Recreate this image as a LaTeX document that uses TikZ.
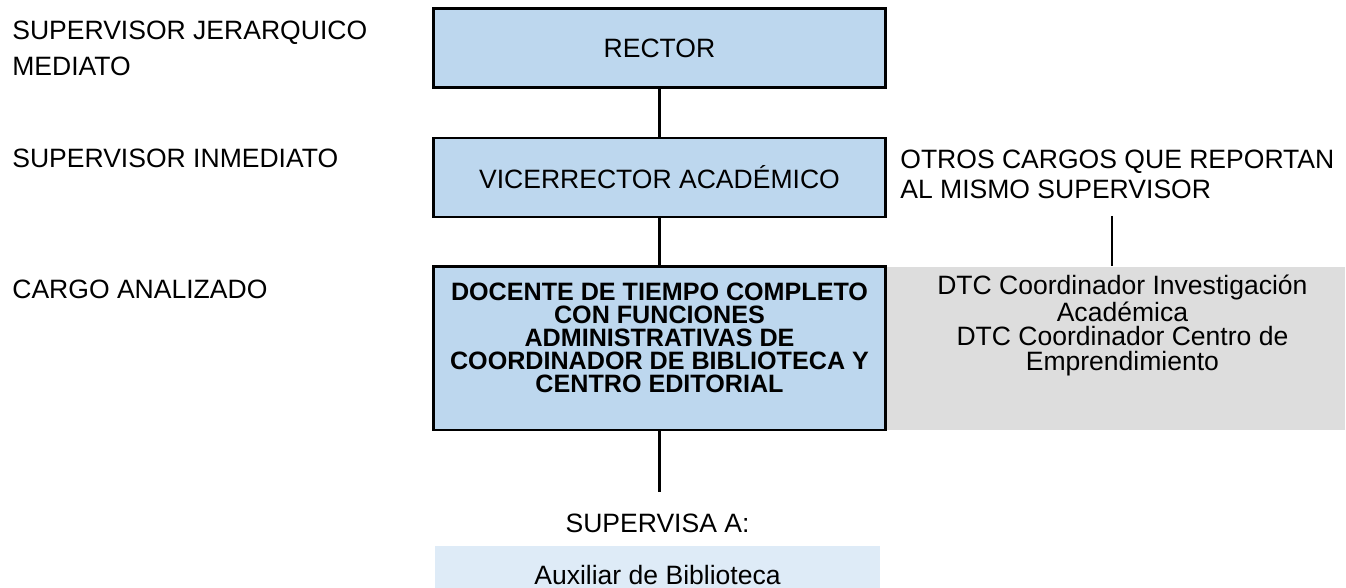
\documentclass[tikz,border=0pt]{standalone}
\usepackage{fontspec}
\setmainfont{Liberation Sans}
\usetikzlibrary{positioning,backgrounds}
\definecolor{cargocol}{RGB}{189,215,238}
\definecolor{otroscol}{RGB}{221,221,221}
\definecolor{subcol}  {RGB}{222,235,247}

\begin{document}
\begin{tikzpicture}[
  puesto/.style={rectangle,draw=black,fill=cargocol,line width=1.5pt,
                 minimum width=9.05cm,minimum height=1.58cm,
                 font={\fontsize{15.1}{17}\selectfont},align=center},
  grisbox/.style={rectangle,fill=otroscol,inner sep=0pt,
                  minimum width=9.16cm,minimum height=3.26cm},
  subbox/.style={rectangle,fill=subcol,inner sep=0pt,
                 minimum width=8.9cm,minimum height=1.16cm,
                 font={\fontsize{15.1}{17}\selectfont}},
  etiq/.style={inner sep=0pt,align=left,
               font={\fontsize{15.1}{20.5}\selectfont}},
  lin/.style={line width=1.2pt,black}
]
\clip (0,0) rectangle (26.92,-11.76);
% jerarquia
\node[puesto] (rector) at (13.19,-0.966) {RECTOR};
\node[puesto,below=0.95cm of rector] (vice) {VICERRECTOR ACADÉMICO};
\node[puesto,minimum height=3.27cm,below=0.94cm of vice,
      label={[name=docentetxt,anchor=north,yshift=-0.34cm,inner sep=0pt,
              align=center,font={\fontsize{14.3}{13.09}\selectfont\bfseries}]
             north:DOCENTE DE TIEMPO COMPLETO\\CON FUNCIONES\\ADMINISTRATIVAS DE\\COORDINADOR DE BIBLIOTECA Y\\CENTRO EDITORIAL}]
  (docente) {};
\begin{scope}[on background layer]
\node[grisbox,anchor=west,
      label={[name=otrostxt,anchor=north,yshift=-0.17cm,xshift=0.12cm,inner sep=0pt,
              align=center,font={\fontsize{15.1}{13.8}\selectfont}]
             north:DTC Coordinador Investigación\\Académica\\DTC Coordinador Centro de\\Emprendimiento}]
  (otros) at (docente.east) {};
\end{scope}
% etiquetas
\node[etiq,anchor=base west] (jerarq)  at (0.24,-1.52) {SUPERVISOR JERARQUICO\\MEDIATO};
\node[etiq,anchor=base west] (inmed)   at (0.24,-3.36) {SUPERVISOR INMEDIATO};
\node[etiq,anchor=base west] (analiz)  at (0.24,-5.98) {CARGO ANALIZADO};
\node[etiq,anchor=base west,font={\fontsize{15.1}{17.07}\selectfont}] (otroslbl) at (18.0,-3.98)
  {OTROS CARGOS QUE REPORTAN\\AL MISMO SUPERVISOR};
\node[etiq,anchor=base] (supa) at (13.15,-10.66) {SUPERVISA A:};
\node[subbox] (aux) at (13.15,-11.5) {Auxiliar de Biblioteca};
% lineas
\coordinate (docfin) at (13.19,-9.85);
\coordinate (otroslin) at (22.24,-4.32);
\draw[lin] (rector) -- (vice);
\draw[lin] (vice) -- (docente);
\draw[lin] (docente) -- (docfin);
\draw[lin] (otroslin) -- (otroslin |- otros.north);
\end{tikzpicture}
\end{document}
